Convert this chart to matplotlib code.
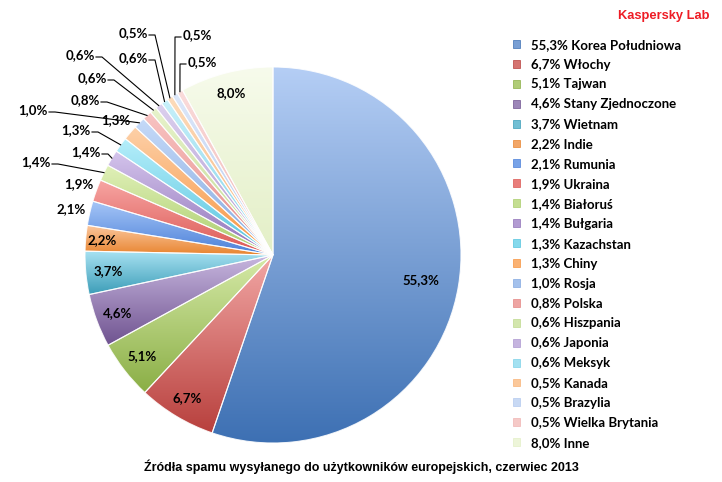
import numpy as np
import matplotlib
matplotlib.use('Agg')
import matplotlib.pyplot as plt
from matplotlib.colors import to_rgb
from matplotlib.patches import Patch

# ---------------- data ----------------
countries = ["Korea Południowa", "Włochy", "Tajwan", "Stany Zjednoczone", "Wietnam",
             "Indie", "Rumunia", "Ukraina", "Białoruś", "Bułgaria", "Kazachstan",
             "Chiny", "Rosja", "Polska", "Hiszpania", "Japonia", "Meksyk", "Kanada",
             "Brazylia", "Wielka Brytania", "Inne"]
values = [55.3, 6.7, 5.1, 4.6, 3.7, 2.2, 2.1, 1.9, 1.4, 1.4, 1.3,
          1.3, 1.0, 0.8, 0.6, 0.6, 0.6, 0.5, 0.5, 0.5, 8.0]
title = "Źródła spamu wysyłanego do użytkowników europejskich, czerwiec 2013"
brand = "Kaspersky Lab"

# ---------------- style ----------------
grad_top = ["#B5CEF5", "#F2A7A5", "#D6EAA8", "#C9B8E0", "#A8E2F2", "#FBC79E",
            "#A6C6F7", "#F7A5A3", "#E0F0B8", "#D4C4EC", "#B5EEFA", "#FDD0A8",
            "#C6DAF8", "#F8C4C3", "#E8F3CC", "#DCD0EE", "#C8F0FA", "#FDDCBC",
            "#DDE8FA", "#FADCDB", "#F7FBEC"]
grad_bot = ["#3D70B3", "#B8403D", "#8AAE45", "#6F5390", "#3B9CB7", "#E8842F",
            "#4A7FD8", "#DB5753", "#A9CC6A", "#8F72B8", "#55C3DE", "#F7943E",
            "#82A8E0", "#E48683", "#BFD98E", "#AD98D0", "#7DD2E8", "#F8B377",
            "#B3C9EE", "#F0B5B3", "#E3EFC6"]

W, H = 722, 482
CX, CY, R = 273, 255, 188   # image pixel coords (y down)

def fy(y):
    return H - y

label_font = dict(family=["Lato", "DejaVu Sans"], weight="bold", size=9.5)

fig = plt.figure(figsize=(W / 100, H / 100), dpi=100)
ax = fig.add_axes([0, 0, 1, 1])

wedges, _ = ax.pie(values, startangle=90, counterclock=False, radius=R,
                   center=(CX, fy(CY)), frame=True,
                   wedgeprops=dict(edgecolor=(1, 1, 1, 0.85), linewidth=0.8))

for w, t, b in zip(wedges, grad_top, grad_bot):
    bb = w.get_path().get_extents()
    tt = np.linspace(0, 1, 256)[:, None, None]
    arr = np.array(to_rgb(t))[None, None, :] * (1 - tt) + np.array(to_rgb(b))[None, None, :] * tt
    im = ax.imshow(arr, extent=[bb.x0, bb.x1, bb.y0, bb.y1], origin="upper",
                   aspect="auto", interpolation="bilinear", zorder=w.get_zorder() - 0.1)
    im.set_clip_path(w)
    w.set_facecolor("none")

# labels
inside_frac = {0: 0.80, 1: 0.89, 2: 0.88, 3: 0.88, 4: 0.88, 5: 0.91, 20: 0.89}
outside_frac = {6: 1.10, 7: 1.10, 11: 1.10}
# leader-line labels: (x, y, side) in image pixel coords
leader = {8: (36, 162, "r"), 9: (86, 152, "r"), 10: (76, 130, "r"),
          12: (33, 110, "r"), 13: (85, 100, "r"), 14: (92, 78, "r"),
          15: (80, 55, "r"), 16: (133, 58, "r"), 17: (133, 33, "r"),
          18: (197, 35, "l"), 19: (202, 62, "l")}

def fmt(v):
    return f"{v:.1f}".replace(".", ",") + "%"

for i, (w, v) in enumerate(zip(wedges, values)):
    th = np.deg2rad((w.theta1 + w.theta2) / 2)
    cx, cy = w.center
    if i in inside_frac or i in outside_frac:
        f = inside_frac.get(i, outside_frac.get(i))
        ax.text(cx + f * R * np.cos(th), cy + f * R * np.sin(th), fmt(v),
                ha="center", va="center", **label_font)
    else:
        lx, ly, side = leader[i]
        ax.text(lx, fy(ly), fmt(v), ha="center", va="center", **label_font)
        s = 1 if side == "r" else -1
        px, py = cx + R * np.cos(th), cy + R * np.sin(th)
        ax.plot([lx + s * 16, lx + s * 22, px], [fy(ly) - 2, fy(ly) - 2, py],
                color="black", lw=0.8, zorder=5)

ax.set_xlim(0, W)
ax.set_ylim(0, H)
ax.set_aspect("equal")
ax.axis("off")

# legend
mid = [tuple((np.array(to_rgb(t)) + np.array(to_rgb(b))) / 2) for t, b in zip(grad_top, grad_bot)]
handles = [Patch(facecolor=c, edgecolor=b, linewidth=0.5) for c, b in zip(mid, grad_bot)]
labels = [f"{fmt(v)} {c}" for v, c in zip(values, countries)]
leg = ax.legend(handles, labels, loc="upper left", bbox_to_anchor=(506 / W, 1 - 32 / H),
                bbox_transform=fig.transFigure, frameon=False, borderpad=0,
                handlelength=0.55, handleheight=0.55, handletextpad=0.85,
                labelspacing=0.6, prop=dict(family=["Lato", "DejaVu Sans"], weight="bold", size=9.5))

fig.text(361 / W, 1 - 467 / H, title, ha="center", va="center",
         family=["Liberation Sans", "DejaVu Sans"], weight="bold", size=9)
fig.text(664 / W, 1 - 16 / H, brand, ha="center", va="center", color="#EE1C25",
         family=["Liberation Sans", "DejaVu Sans"], weight="bold", size=9.3)

fig.savefig("out.png", dpi=100)
